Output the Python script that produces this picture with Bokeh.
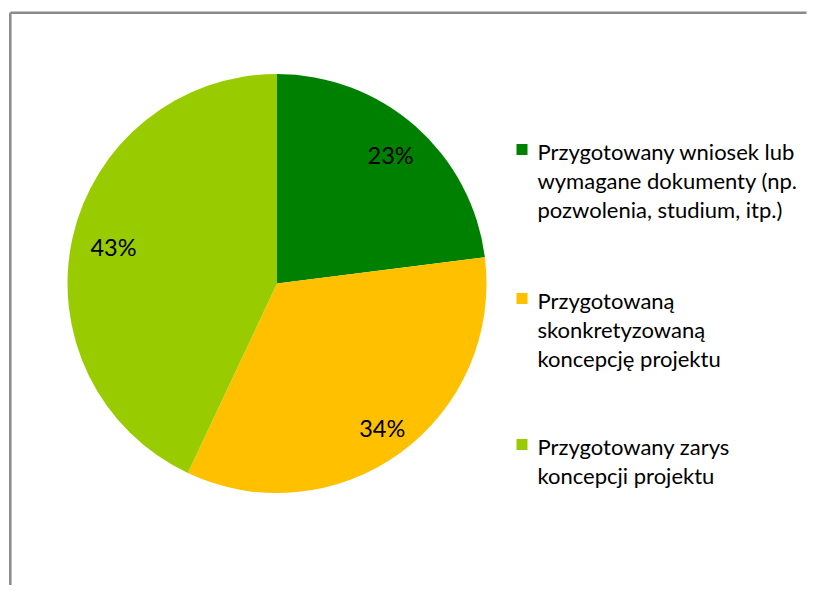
import math
from bokeh.plotting import figure
from bokeh.models import Range1d, ColumnDataSource
from bokeh.core.properties import value
from bokeh.embed import file_html
from bokeh.resources import INLINE

# ---- data ----
categories = [
    "Przygotowany wniosek lub\nwymagane dokumenty (np.\npozwolenia, studium,  itp.)",
    "Przygotowaną\nskonkretyzowaną\nkoncepcję projektu",
    "Przygotowany zarys\nkoncepcji projektu",
]
shares = [23, 34, 43]
colors = ["#008000", "#FFC000", "#99CC00"]

# ---- layout (image pixel coordinates, y measured from top) ----
W, H = 808, 585
cx, cy_img, R = 276.5, 283.0, 209.5
FONT = "Lato"
label_r = [0.82, 0.855, 0.80]   # label distance from centre, fraction of radius


def Y(img_y):
    return H - img_y


p = figure(width=W, height=H, output_backend="svg", toolbar_location=None,
           x_range=Range1d(0, W), y_range=Range1d(0, H),
           min_border=0, min_border_left=0, min_border_right=0,
           min_border_top=0, min_border_bottom=0)
p.axis.visible = False
p.grid.visible = False
p.outline_line_color = None
p.background_fill_color = "white"
p.border_fill_color = "white"

# chart frame (left and top edges visible in window)
p.line(x=[9.8, 9.8], y=[Y(12.3), Y(H + 5)], line_color="#8a8a8a", line_width=2.5)
p.line(x=[9.8, W - 2], y=[Y(12.3), Y(12.3)], line_color="#8a8a8a", line_width=2.5)

# ---- pie ----
total = float(sum(shares))
starts, ends, mids = [], [], []
acc = 0.0
for s in shares:
    a0 = math.pi / 2 - 2 * math.pi * acc / total
    acc += s
    a1 = math.pi / 2 - 2 * math.pi * acc / total
    starts.append(a0)
    ends.append(a1)
    mids.append((a0 + a1) / 2)

src = ColumnDataSource(dict(start=starts, end=ends, color=colors))
p.wedge(x=cx, y=Y(cy_img), radius=R, start_angle="start", end_angle="end",
        direction="clock", fill_color="color", line_color=None, source=src)

lab = ColumnDataSource(dict(
    x=[cx + f * R * math.cos(m) for f, m in zip(label_r, mids)],
    y=[Y(cy_img) + f * R * math.sin(m) for f, m in zip(label_r, mids)],
    t=[f"{s}%" for s in shares],
))
p.text(x="x", y="y", text="t", source=lab, text_align="center",
       text_baseline="middle", text_font=value(FONT), text_font_size="23.5px",
       text_color="#000000")

# ---- legend ----
entry_centres = [149, 298, 444]   # marker / first-line centre
line_h = 29.2
mk_x, txt_x = 521.5, 537
for i, (cat, col) in enumerate(zip(categories, colors)):
    c = entry_centres[i]
    p.rect(x=mk_x, y=Y(c), width=11, height=11, fill_color=col, line_color=None)
    lines = cat.split("\n")
    p.text(x=[txt_x] * len(lines), y=[Y(c + 2 + k * line_h) for k in range(len(lines))],
           text=lines, text_align="left", text_baseline="middle",
           text_font=value(FONT), text_font_size="22px", text_color="#000000")

open("out.html", "w").write(file_html(p, INLINE))
